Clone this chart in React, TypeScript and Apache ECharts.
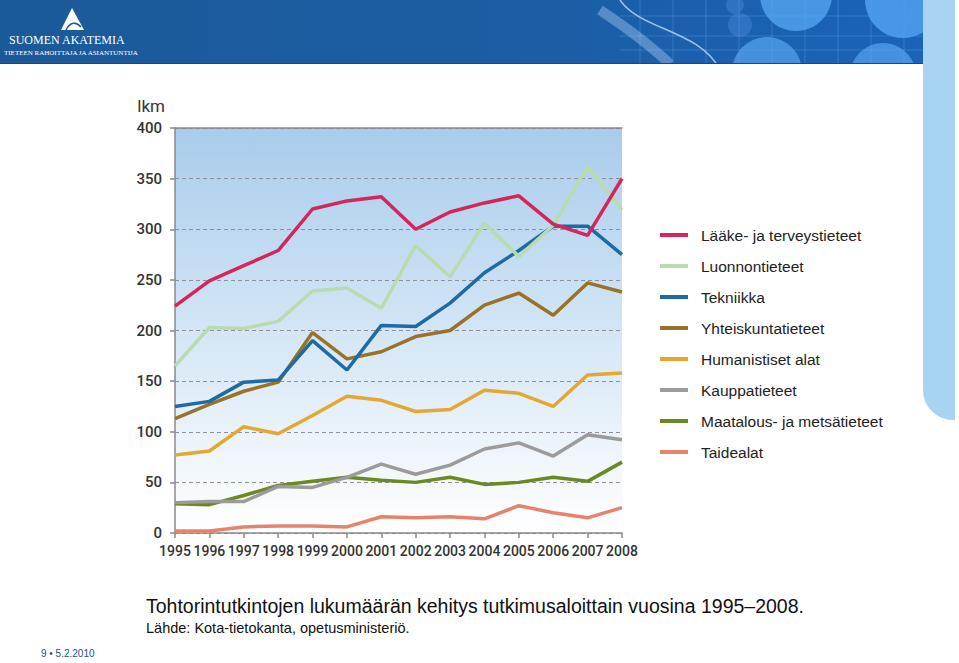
import React, { useEffect, useRef } from "react";
import * as echarts from "echarts";

const years = ["1995","1996","1997","1998","1999","2000","2001","2002","2003","2004","2005","2006","2007","2008"];

const seriesNames = [
  "Lääke- ja terveystieteet",
  "Luonnontieteet",
  "Tekniikka",
  "Yhteiskuntatieteet",
  "Humanistiset alat",
  "Kauppatieteet",
  "Maatalous- ja metsätieteet",
  "Taidealat",
];

const laake = [224, 249, 264, 279, 320, 328, 332, 300, 317, 326, 333, 305, 294, 350];
const luonnon = [165, 203, 202, 209, 239, 242, 222, 284, 253, 306, 273, 304, 362, 319];
const tekniikka = [125, 130, 149, 151, 190, 161, 205, 204, 227, 257, 279, 303, 303, 275];
const yhteiskunta = [113, 127, 140, 149, 198, 172, 179, 194, 200, 225, 237, 215, 247, 238];
const humanistiset = [77, 81, 105, 98, 116, 135, 131, 120, 122, 141, 138, 125, 156, 158];
const kauppa = [30, 31, 31, 46, 45, 55, 68, 58, 67, 83, 89, 76, 97, 92];
const maatalous = [29, 28, 37, 47, 51, 55, 52, 50, 55, 48, 50, 55, 51, 70];
const taide = [2, 2, 6, 7, 7, 6, 16, 15, 16, 14, 27, 20, 15, 25];

const seriesData = [laake, luonnon, tekniikka, yhteiskunta, humanistiset, kauppa, maatalous, taide];
const seriesColors = ["#d5255a", "#b8dcae", "#1d6aa6", "#9a7128", "#e4a730", "#9b9b9b", "#6a8a1f", "#e8836b"];

const yTicks = { min: 0, max: 400, interval: 50 };

const SANS = "'Liberation Sans', Arial, sans-serif";

export default function App() {
  const ref = useRef<HTMLDivElement>(null);
  useEffect(() => {
    if (!ref.current) return;
    const chart = echarts.init(ref.current, null, { renderer: "svg" });

    const headerDecor: any[] = [
      { type: "rect", z: 0, shape: { x: 0, y: 0, width: 923, height: 64 },
        style: { fill: new echarts.graphic.LinearGradient(0, 0, 1, 0, [
          { offset: 0, color: "#1b5a98" }, { offset: 0.6, color: "#1b5ea6" }, { offset: 1, color: "#1a63b8" }]) } },
      ...[640, 673, 706, 739, 772, 805, 838, 871, 904].map((x) => ({
        type: "line", z: 1, shape: { x1: x, y1: 0, x2: x, y2: 64 }, style: { stroke: "rgba(120,180,240,0.3)", lineWidth: 1 } })),
      ...[16, 36, 50].map((y) => ({
        type: "line", z: 1, shape: { x1: 620, y1: y, x2: 923, y2: y }, style: { stroke: "rgba(120,180,240,0.3)", lineWidth: 1 } })),
      { type: "circle", z: 1, shape: { cx: 796, cy: -5, r: 36 }, style: { fill: "rgba(85,165,240,0.8)" } },
      { type: "circle", z: 1, shape: { cx: 767, cy: 72, r: 35 }, style: { fill: "rgba(85,165,240,0.7)" } },
      { type: "circle", z: 1, shape: { cx: 903, cy: 0, r: 38 }, style: { fill: "rgba(80,160,240,0.85)" } },
      { type: "circle", z: 1, shape: { cx: 883, cy: 76, r: 33 }, style: { fill: "rgba(85,165,240,0.7)" } },
      { type: "circle", z: 1, shape: { cx: 740, cy: 25, r: 12 }, style: { fill: "rgba(70,140,220,0.45)" } },
      { type: "circle", z: 1, shape: { cx: 735, cy: 5, r: 9 }, style: { fill: "rgba(70,140,220,0.45)" } },
      { type: "bezierCurve", z: 1, shape: { x1: 620, y1: 0, x2: 720, y2: 70, cpx1: 640, cpy1: 30, cpx2: 700, cpy2: 30 },
        style: { stroke: "rgba(220,235,255,0.7)", lineWidth: 1.5, fill: null } },
      { type: "bezierCurve", z: 1, shape: { x1: 600, y1: 10, x2: 670, y2: 64, cpx1: 630, cpy1: 30, cpx2: 650, cpy2: 45 },
        style: { stroke: "rgba(200,225,255,0.35)", lineWidth: 10, fill: null } },
      { type: "rect", z: 2, shape: { x: 580, y: 64, width: 343, height: 56 }, style: { fill: "#ffffff" } },
      { type: "line", z: 2, shape: { x1: 0, y1: 63.5, x2: 923, y2: 63.5 }, style: { stroke: "#16497c", lineWidth: 1 } },
      { type: "rect", z: 3, shape: { x: 923, y: 0, width: 32, height: 420, r: [0, 0, 0, 30] }, style: { fill: "#a8d3f2" } },
      { type: "polygon", z: 4, shape: { points: [[72, 8], [61, 30], [84, 30]] }, style: { fill: "#ffffff" } },
      { type: "bezierCurve", z: 5, shape: { x1: 66, y1: 30, x2: 81, y2: 27, cpx1: 70, cpy1: 22, cpx2: 76, cpy2: 21 },
        style: { stroke: "#1b5a98", lineWidth: 1.5, fill: null } },
      { type: "text", z: 4, left: 9, top: 34, style: { text: "SUOMEN AKATEMIA", fill: "#ffffff",
        font: "12px 'Liberation Serif', 'DejaVu Serif', serif" } },
      { type: "text", z: 4, left: 4, top: 49, style: { text: "TIETEEN RAHOITTAJA JA ASIANTUNTIJA", fill: "#ffffff",
        font: "7px 'Liberation Serif', 'DejaVu Serif', serif" } },
      { type: "text", z: 4, left: 146, top: 596, style: { text: "Tohtorintutkintojen lukumäärän kehitys tutkimusaloittain vuosina 1995–2008.",
        fill: "#111111", font: "19.5px " + SANS } },
      { type: "text", z: 4, left: 146, top: 620, style: { text: "Lähde: Kota-tietokanta, opetusministeriö.",
        fill: "#111111", font: "14.5px " + SANS } },
      { type: "text", z: 4, left: 41, top: 648, style: { text: "9 • 5.2.2010",
        fill: "#1b4f8a", font: "10px " + SANS } },
    ];

    chart.setOption({
      animation: false,
      backgroundColor: "#ffffff",
      graphic: headerDecor,
      grid: {
        left: 175, right: 337, top: 128, bottom: 130, show: true, borderWidth: 0,
        backgroundColor: new echarts.graphic.LinearGradient(0, 0, 0, 1, [
          { offset: 0, color: "#a8ccec" }, { offset: 1, color: "#ffffff" }]),
      },
      legend: {
        orient: "vertical", left: 655, top: 221,
        data: seriesNames,
        icon: "rect", itemWidth: 28, itemHeight: 4, itemGap: 13,
        textStyle: { fontSize: 15.5, lineHeight: 18, color: "#222222", fontFamily: SANS, padding: [0, 0, 0, 8] },
      },
      xAxis: [
        {
          type: "category", data: years, boundaryGap: false, position: "bottom",
          axisLine: { lineStyle: { color: "#8a8a8a", width: 1.5 } },
          axisTick: { show: true, length: 5, alignWithLabel: true, lineStyle: { color: "#8a8a8a", width: 1.5 } },
          axisLabel: { color: "#333333", fontSize: 14, fontFamily: "Roboto, sans-serif", fontWeight: 500, margin: 11, interval: 0 },
          splitLine: { show: false },
        },
        {
          type: "category", data: years, boundaryGap: false, position: "top",
          axisLine: { lineStyle: { color: "#8a8a8a", width: 1.5 } },
          axisTick: { show: false }, axisLabel: { show: false }, splitLine: { show: false },
        },
      ],
      yAxis: {
        type: "value", min: yTicks.min, max: yTicks.max, interval: yTicks.interval,
        name: "lkm", nameLocation: "end", nameGap: 14,
        nameTextStyle: { align: "right", padding: [0, 10, 0, 0], color: "#333333", fontSize: 17, fontFamily: "Roboto, sans-serif" },
        axisLine: { show: true, lineStyle: { color: "#8a8a8a", width: 1.5 } },
        axisTick: { show: true, length: 5, lineStyle: { color: "#8a8a8a", width: 1.5 } },
        axisLabel: { color: "#333333", fontSize: 15, fontFamily: "Roboto, sans-serif", fontWeight: 500, margin: 13 },
        splitLine: { show: true, lineStyle: { color: "#8f8f9a", type: [4, 3], width: 1 } },
      },
      series: seriesNames.map((name, i) => ({
        name, type: "line", data: seriesData[i], showSymbol: false, symbol: "none",
        lineStyle: { color: seriesColors[i], width: 3.5 }, itemStyle: { color: seriesColors[i] },
        z: 10 - i,
      })),
    });
    return () => chart.dispose();
  }, []);
  return <div ref={ref} style={{ position: "absolute", left: 0, top: 0, width: 959, height: 663 }} />;
}
